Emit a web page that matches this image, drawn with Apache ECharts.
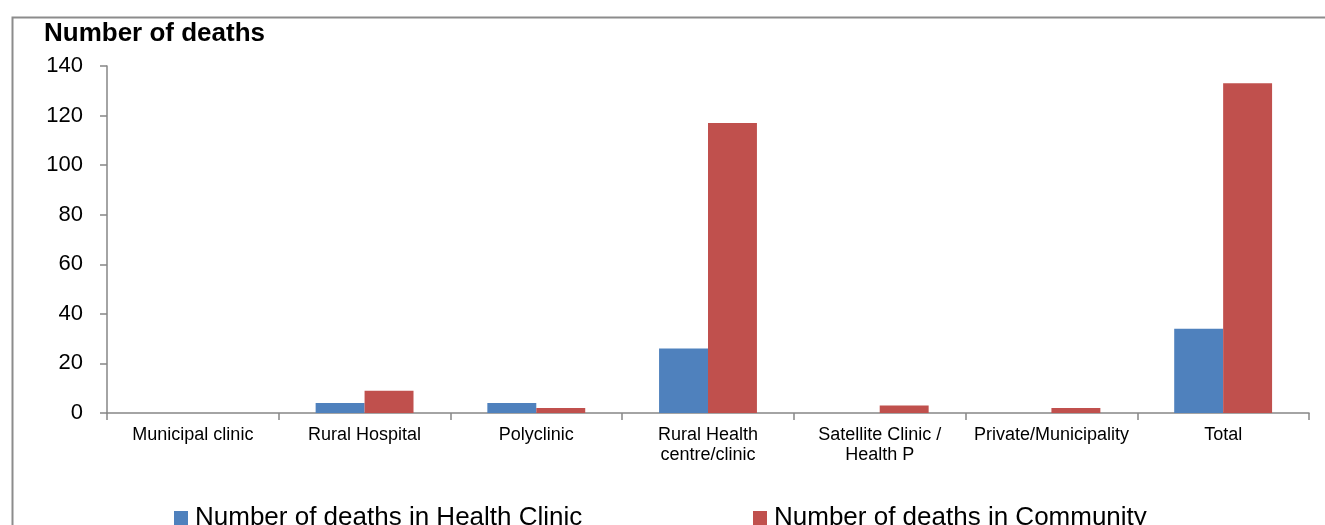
<!DOCTYPE html>
<html>
<head>
<meta charset="utf-8">
<title>Number of deaths</title>
<script src="https://cdn.jsdelivr.net/npm/echarts@6/dist/echarts.min.js"></script>
<style>
  html, body { margin: 0; padding: 0; background: #ffffff; }
  #chart { width: 1325px; height: 525px; }
</style>
</head>
<body>
<div id="chart"></div>
<script>
// Facility types along the horizontal axis
const categories = [
  'Municipal clinic',
  'Rural Hospital',
  'Polyclinic',
  'Rural Health\ncentre/clinic',
  'Satellite Clinic /\nHealth P',
  'Private/Municipality',
  'Total'
];

// Deaths recorded per facility type
const healthClinicDeaths = [0, 4, 4, 26, 0, 0, 34];
const communityDeaths = [0, 9, 2, 117, 3, 2, 133];

const seriesNames = ['Number of deaths in Health Clinic', 'Number of deaths in Community'];
const yTicks = { min: 0, max: 140, interval: 20 };

const axisGrey = '#868686';
const font = 'Arial, "Liberation Sans", sans-serif';

const chart = echarts.init(document.getElementById('chart'), null, { renderer: 'canvas' });

const legendBase = {
  top: 500,
  itemWidth: 14,
  itemHeight: 14,
  icon: 'rect',
  itemStyle: { borderWidth: 0 },
  textStyle: { fontFamily: font, fontSize: 26, color: '#000', padding: [0, 0, 0, 2] }
};

chart.setOption({
  backgroundColor: '#ffffff',
  animation: false,
  graphic: [{
    type: 'rect',
    left: 10,
    top: 15,
    shape: { x: 0, y: 0, width: 1330, height: 530 },
    style: { fill: 'none', stroke: '#8c8c8c', lineWidth: 2 },
    silent: true
  }],
  title: {
    text: 'Number of deaths',
    left: 44,
    top: 21,
    padding: 0,
    textStyle: { fontFamily: font, fontWeight: 'bold', fontSize: 26, color: '#000' }
  },
  legend: [
    Object.assign({}, legendBase, { data: [seriesNames[0]], left: 169 }),
    Object.assign({}, legendBase, { data: [seriesNames[1]], left: 748 })
  ],
  grid: { left: 107, right: 16, top: 66, bottom: 112, containLabel: false },
  xAxis: {
    type: 'category',
    data: categories,
    axisLine: { lineStyle: { color: axisGrey, width: 1.5 } },
    axisTick: { show: true, alignWithLabel: false, length: 7, lineStyle: { color: axisGrey, width: 1.5 } },
    axisLabel: {
      interval: 0,
      margin: 12,
      fontFamily: font,
      fontSize: 18,
      lineHeight: 20,
      color: '#000'
    },
    splitLine: { show: false }
  },
  yAxis: {
    type: 'value',
    min: yTicks.min,
    max: yTicks.max,
    interval: yTicks.interval,
    axisLine: { show: true, lineStyle: { color: axisGrey, width: 1.5 } },
    axisTick: { show: true, length: 7, lineStyle: { color: axisGrey, width: 1.5 } },
    axisLabel: { margin: 24, fontFamily: font, fontSize: 22, color: '#000' },
    splitLine: { show: false }
  },
  series: [{
    name: seriesNames[0],
    type: 'bar',
    data: healthClinicDeaths,
    barGap: '0%',
    barCategoryGap: '43%',
    itemStyle: { color: '#4f81bd' }
  }, {
    name: seriesNames[1],
    type: 'bar',
    data: communityDeaths,
    barGap: '0%',
    barCategoryGap: '43%',
    itemStyle: { color: '#c0504d' }
  }]
});
</script>
</body>
</html>
